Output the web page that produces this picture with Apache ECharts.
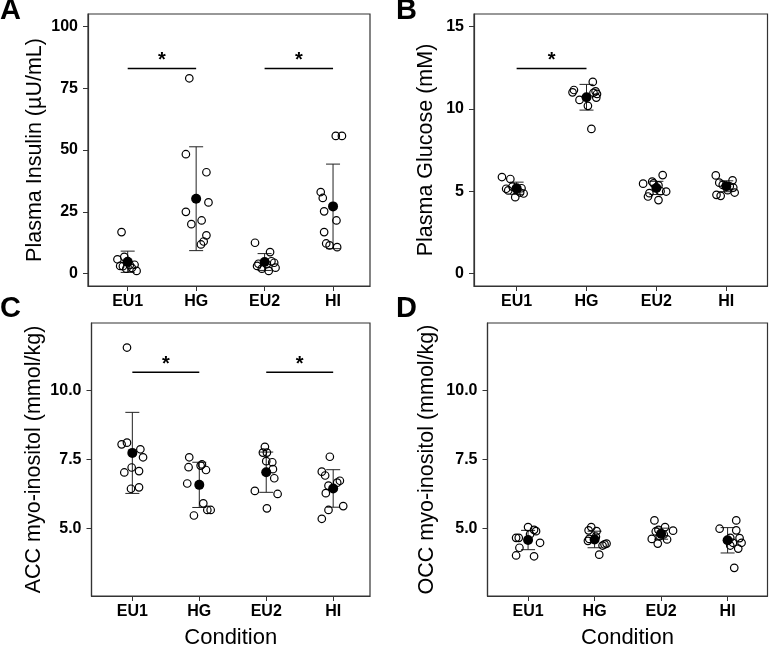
<!DOCTYPE html>
<html>
<head>
<meta charset="utf-8">
<script src="https://cdn.jsdelivr.net/npm/echarts@6/dist/echarts.min.js"></script>
<style>html,body{margin:0;padding:0;background:#fff}#chart{width:769px;height:645px}</style>
</head>
<body>
<div id="chart"></div>
<script>
// ---------- data ----------
const categories = ['EU1', 'HG', 'EU2', 'HI'];

// Panel A: Plasma insulin (µU/mL)
const insulinPoints = [
  [16.8, 5.8, 6.8, 3.1, 2.0, 2.3, 1.1, 3.5, 3.0, 3.6],
  [79, 48.3, 41, 28.8, 25, 21.5, 20, 15.5, 13, 11.8],
  [12.5, 8.7, 4.0, 3.1, 3.8, 4.4, 2.4, 1.1, 2.0, 5.0],
  [55.7, 55.7, 33, 30.6, 25.2, 21.5, 16.8, 12.2, 11.4, 10.7]
];
const insulinJitter = [
  [-0.09, -0.15, -0.05, -0.11, -0.02, 0.06, 0.13, 0.03, -0.07, 0.10],
  [-0.10, -0.15, 0.15, 0.18, -0.15, 0.08, -0.07, 0.15, 0.11, 0.07],
  [-0.14, 0.08, -0.09, -0.11, 0.03, 0.14, 0.16, 0.06, -0.04, 0.10],
  [0.04, 0.13, -0.18, -0.15, -0.13, 0.05, -0.13, -0.10, -0.05, 0.06]
];
const insulinMean = [4.8, 30.3, 4.7, 27.2];
const insulinSD = [4.3, 21.0, 3.4, 17.1];
const insulinSig = [[1, 2, 83], [3, 4, 83]];
const insulinTicks = [0, 25, 50, 75, 100];

// Panel B: Plasma glucose (mM)
const glucosePoints = [
  [5.86, 5.74, 5.15, 5.05, 5.28, 5.18, 4.86, 4.64, 4.92, 5.1],
  [11.63, 11.14, 11.0, 11.06, 10.9, 10.68, 10.54, 10.18, 8.78, 10.97],
  [5.98, 5.46, 5.58, 5.48, 5.36, 4.98, 4.88, 4.68, 4.46, 5.0],
  [5.96, 5.52, 5.66, 5.22, 4.92, 4.78, 4.72, 5.3, 5.38, 5.06]
];
const glucoseJitter = [
  [-0.21, -0.09, -0.15, -0.12, -0.06, 0.07, 0.10, -0.02, 0.05, 0.0],
  [0.09, -0.18, -0.20, 0.13, 0.15, 0.14, -0.10, 0.02, 0.07, 0.10],
  [0.09, -0.19, -0.06, -0.04, 0.03, 0.14, -0.10, -0.12, 0.03, 0.06],
  [-0.15, -0.10, 0.09, 0.10, 0.12, -0.14, -0.08, 0.05, -0.05, 0.02]
];
const glucoseMean = [5.18, 10.7, 5.2, 5.3];
const glucoseSD = [0.37, 0.78, 0.4, 0.33];
const glucoseSig = [[1, 2, 12.45]];
const glucoseTicks = [0, 5, 10, 15];

// Panel C: ACC myo-inositol (mmol/kg)
const accPoints = [
  [11.56, 8.05, 8.11, 7.87, 7.58, 7.21, 7.03, 7.08, 6.44, 6.49],
  [7.58, 7.22, 7.32, 7.28, 7.12, 6.63, 5.91, 5.47, 5.67, 5.67],
  [7.96, 7.75, 7.75, 7.4, 7.44, 7.15, 6.82, 6.36, 6.25, 5.73],
  [7.6, 7.06, 6.92, 6.73, 6.66, 6.55, 6.28, 5.81, 5.67, 5.35]
];
const accJitter = [
  [-0.08, -0.16, -0.08, 0.12, 0.16, -0.01, -0.12, 0.10, -0.02, 0.10],
  [-0.15, -0.16, 0.04, 0.02, 0.10, -0.18, 0.06, -0.08, 0.12, 0.17],
  [-0.02, -0.05, 0.01, 0.09, 0.0, 0.10, 0.12, -0.17, 0.17, 0.01],
  [-0.05, -0.17, -0.12, 0.10, 0.06, -0.07, -0.11, 0.15, -0.07, -0.17]
];
const accMean = [7.74, 6.58, 7.04, 6.45];
const accSD = [1.47, 0.82, 0.73, 0.68];
const accSig = [[1, 2, 10.66], [3, 4, 10.66]];
const myoTicks = [5, 7.5, 10];

// Panel D: OCC myo-inositol (mmol/kg)
const occPoints = [
  [5.05, 4.95, 4.9, 4.66, 4.66, 4.48, 4.3, 4.02, 3.99, 4.79],
  [5.05, 4.93, 4.9, 4.62, 4.45, 4.38, 4.42, 4.05, 4.7, 4.55],
  [5.29, 4.89, 5.05, 4.92, 4.62, 4.45, 4.6, 4.78, 4.95, 4.72],
  [5.29, 4.99, 4.93, 4.66, 4.65, 4.48, 4.48, 4.27, 3.57, 4.38]
];
const occJitter = [
  [0.0, 0.09, 0.12, -0.18, -0.14, 0.18, -0.13, -0.18, 0.09, 0.03],
  [-0.05, -0.09, 0.03, -0.08, 0.18, 0.12, 0.15, 0.07, 0.02, -0.10],
  [-0.10, -0.08, 0.06, 0.18, -0.14, -0.05, 0.09, 0.04, -0.04, -0.02],
  [0.13, -0.12, 0.13, 0.04, 0.18, 0.21, 0.08, 0.16, 0.10, 0.04]
];
const occMean = [4.58, 4.6, 4.81, 4.57];
const occSD = [0.35, 0.3, 0.2, 0.46];
const occSig = [];

// ---------- chart ----------
const FONT = 'Liberation Sans, Arial, sans-serif';
const panels = [
  { pts: insulinPoints, jit: insulinJitter, mean: insulinMean, sd: insulinSD, sig: insulinSig, ticks: insulinTicks,
    title: 'Plasma Insulin (µU/mL)', grid: { left: 88, top: 14, width: 282, height: 272 },
    ymin: -5, ymax: 105, xmin: 0.42, xmax: 4.54, nameGap: 42, fmt: v => String(v), xname: '' },
  { pts: glucosePoints, jit: glucoseJitter, mean: glucoseMean, sd: glucoseSD, sig: glucoseSig, ticks: glucoseTicks,
    title: 'Plasma Glucose (mM)', grid: { left: 474, top: 14, width: 293.5, height: 272 },
    ymin: -0.75, ymax: 15.75, xmin: 0.39, xmax: 4.59, nameGap: 37, fmt: v => String(v), xname: '' },
  { pts: accPoints, jit: accJitter, mean: accMean, sd: accSD, sig: accSig, ticks: myoTicks,
    title: 'ACC myo-inositol (mmol/kg)', grid: { left: 91.5, top: 323, width: 278.5, height: 273 },
    ymin: 2.55, ymax: 12.45, xmin: 0.39, xmax: 4.55, nameGap: 46, fmt: v => v.toFixed(1), xname: 'Condition' },
  { pts: occPoints, jit: occJitter, mean: occMean, sd: occSD, sig: occSig, ticks: myoTicks,
    title: 'OCC myo-inositol (mmol/kg)', grid: { left: 487.5, top: 323, width: 280, height: 273 },
    ymin: 2.55, ymax: 12.45, xmin: 0.39, xmax: 4.6, nameGap: 49, fmt: v => v.toFixed(1), xname: 'Condition' }
];

const grids = [], xAxes = [], yAxes = [], series = [];
const axisColor = '#333';

panels.forEach((p, i) => {
  grids.push(Object.assign({ show: true, borderColor: axisColor, borderWidth: 1.2, backgroundColor: 'transparent',
    containLabel: false, outerBoundsMode: 'none' }, p.grid));
  xAxes.push({
    type: 'value', gridIndex: i, min: p.xmin, max: p.xmax,
    axisLine: { show: true, onZero: false, lineStyle: { color: axisColor, width: 1.2 } },
    axisTick: { show: true, customValues: [1, 2, 3, 4], length: 5, lineStyle: { color: axisColor } },
    axisLabel: { customValues: [1, 2, 3, 4], formatter: v => categories[Math.round(v) - 1],
      fontFamily: FONT, fontWeight: 'bold', fontSize: 16, color: '#000', margin: 8 },
    splitLine: { show: false },
    name: p.xname, nameLocation: 'middle', nameGap: 31,
    nameTextStyle: { fontFamily: FONT, fontSize: 22, color: '#000' }
  });
  yAxes.push({
    type: 'value', gridIndex: i, min: p.ymin, max: p.ymax,
    axisLine: { show: true, onZero: false, lineStyle: { color: axisColor, width: 1.2 } },
    axisTick: { show: true, customValues: p.ticks, length: 5, lineStyle: { color: axisColor } },
    axisLabel: { customValues: p.ticks, formatter: p.fmt,
      fontFamily: FONT, fontWeight: 'bold', fontSize: 16, color: '#000', margin: 10 },
    splitLine: { show: false },
    name: p.title, nameLocation: 'middle', nameGap: p.nameGap,
    nameTextStyle: { fontFamily: FONT, fontSize: 21.5, color: '#000' }
  });

  // error bars (mean ± SD)
  series.push({
    type: 'custom', xAxisIndex: i, yAxisIndex: i, z: 2, silent: true,
    data: p.mean.map((m, k) => [k + 1, m - p.sd[k], m + p.sd[k]]),
    encode: { x: 0, y: [1, 2] },
    renderItem: (params, api) => {
      const x = api.value(0);
      const lo = api.coord([x, api.value(1)]);
      const hi = api.coord([x, api.value(2)]);
      const w = 7;
      const st = { stroke: '#222', lineWidth: 1 };
      return { type: 'group', children: [
        { type: 'line', shape: { x1: lo[0], y1: lo[1], x2: hi[0], y2: hi[1] }, style: st },
        { type: 'line', shape: { x1: hi[0] - w, y1: hi[1], x2: hi[0] + w, y2: hi[1] }, style: st },
        { type: 'line', shape: { x1: lo[0] - w, y1: lo[1], x2: lo[0] + w, y2: lo[1] }, style: st }
      ] };
    }
  });

  // individual points
  const indiv = [];
  p.pts.forEach((arr, k) => arr.forEach((v, j) => indiv.push([k + 1 + p.jit[k][j], v])));
  series.push({
    type: 'scatter', xAxisIndex: i, yAxisIndex: i, z: 3, data: indiv,
    symbol: 'circle', symbolSize: 7.5,
    itemStyle: { color: 'rgba(255,255,255,0)', borderColor: '#000', borderWidth: 1.2, opacity: 1 }
  });

  // mean points
  series.push({
    type: 'scatter', xAxisIndex: i, yAxisIndex: i, z: 4,
    data: p.mean.map((m, k) => [k + 1, m]),
    symbol: 'circle', symbolSize: 10,
    itemStyle: { color: '#000', borderWidth: 0, opacity: 1 }
  });

  // significance bars
  if (p.sig.length) {
    series.push({
      type: 'custom', xAxisIndex: i, yAxisIndex: i, z: 5, silent: true,
      data: p.sig,
      encode: { x: [0, 1], y: 2 },
      renderItem: (params, api) => {
        const a = api.coord([api.value(0), api.value(2)]);
        const b = api.coord([api.value(1), api.value(2)]);
        return { type: 'group', children: [
          { type: 'line', shape: { x1: a[0], y1: a[1], x2: b[0], y2: b[1] }, style: { stroke: '#000', lineWidth: 1.5 } },
          { type: 'text', style: { text: '*', x: (a[0] + b[0]) / 2, y: a[1] + 2, align: 'center', verticalAlign: 'bottom',
            font: 'bold 20px ' + FONT, fill: '#000' } }
        ] };
      }
    });
  }
});

const letterStyle = { font: 'bold 29px ' + FONT, fill: '#000' };
const chart = echarts.init(document.getElementById('chart'), null, { renderer: 'canvas' });
chart.setOption({
  animation: false,
  backgroundColor: '#fff',
  grid: grids, xAxis: xAxes, yAxis: yAxes, series: series,
  graphic: [
    { type: 'text', left: 0, top: -4, style: Object.assign({ text: 'A' }, letterStyle) },
    { type: 'text', left: 396, top: -4, style: Object.assign({ text: 'B' }, letterStyle) },
    { type: 'text', left: 0, top: 294, style: Object.assign({ text: 'C' }, letterStyle) },
    { type: 'text', left: 396, top: 294, style: Object.assign({ text: 'D' }, letterStyle) }
  ]
});
</script>
</body>
</html>
